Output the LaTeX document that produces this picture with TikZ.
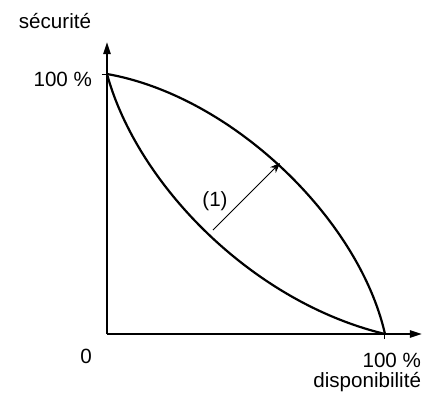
\documentclass[tikz,border=0pt]{standalone}
\usepackage{fontspec}
\setmainfont{Liberation Sans}
\usetikzlibrary{arrows.meta}

\begin{document}
\begin{tikzpicture}[x=0.5pt, y=0.5pt, line width=1pt,
    axis/.style={-{Triangle[length=6pt,width=3.6pt]}},
    curve/.style={line width=1.1pt},
    gainarrow/.style={line width=0.5pt, -{Stealth[length=5pt,width=4pt]}},
    lbl/.style={inner sep=0pt, font=\fontsize{10.3}{12}\selectfont}]
    \useasboundingbox (-107,-64) rectangle (334,334);
    % axes
    \coordinate (O) at (0,0);
    \coordinate (ytop) at (0,292);
    \coordinate (xend) at (315,0);
    \coordinate (S) at (0,260);
    \coordinate (D) at (278,0);
    \draw[axis] (O) -- (ytop);
    \draw[axis] (O) -- (xend);
    \draw[line width=0.5pt] ([xshift=-2.5pt]S) -- ([xshift=2pt]S);
    \draw[line width=0.5pt] ([yshift=-2.5pt]D) -- ([yshift=2pt]D);
    % labels
    \node[lbl, anchor=base] (ylab) at (-52,306) {sécurité};
    \node[lbl, anchor=base east] (ymax) at (-14,248) {100 \%};
    \node[lbl, anchor=base] (zero) at (-21,-30) {0};
    \node[lbl, anchor=base east] (xmax) at (315,-33) {100 \%};
    \node[lbl, anchor=base east] (xlab) at (315,-54) {disponibilité};
    % curves
    \draw[curve] (S) .. controls (125,238) and (252,115) .. (D);
    \draw[curve] (S) .. controls (30,150) and (145,32) .. (D);
    % arrow (1)
    \coordinate (a1) at (106,104);
    \coordinate (a2) at (173,171);
    \draw[gainarrow] (a1) -- (a2);
    \node[lbl] (one) at (108,133) {(1)};
\end{tikzpicture}
\end{document}
